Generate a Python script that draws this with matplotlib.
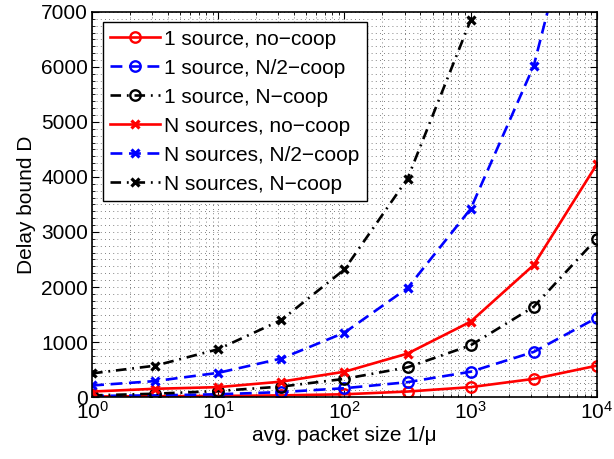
import numpy as np
import matplotlib
matplotlib.use("Agg")
import matplotlib.pyplot as plt
from matplotlib.ticker import LogLocator, MultipleLocator, NullFormatter

plt.rcParams["font.family"] = ["Liberation Sans", "DejaVu Sans"]

# avg. packet size 1/mu (half-decade steps)
pkt_size = [1, 3.162, 10, 31.62, 100, 316.2, 1000, 3162, 10000]

one_nocoop = [10, 15, 20, 30, 50, 100, 180, 330, 570]
one_half = [20, 30, 50, 90, 160, 270, 460, 820, 1440]
one_full = [30, 60, 110, 190, 330, 540, 940, 1640, 2880]
n_nocoop = [100, 150, 180, 280, 460, 790, 1370, 2400, 4230]
n_half = [210, 290, 440, 700, 1170, 1980, 3420, 6020, 10500]
n_full = [430, 570, 870, 1400, 2320, 3970, 6850, 12000, 20900]

labels = [
    "1 source, no\u2212coop",
    "1 source, N/2\u2212coop",
    "1 source, N\u2212coop",
    "N sources, no\u2212coop",
    "N sources, N/2\u2212coop",
    "N sources, N\u2212coop",
]

fig = plt.figure(figsize=(6.14, 4.59), dpi=100)
ax = fig.add_axes([0.150, 0.135, 0.822, 0.839])

lw = 1.9
dash = (4.5, 2.5)
dashdot = (4, 2.2, 0.7, 2.2)
ax.plot(pkt_size, one_nocoop, "r-", marker="o", ms=7.5, mfc="none", mew=1.7, lw=lw, label=labels[0])
ax.plot(pkt_size, one_half, "b--", marker="o", ms=7.5, mfc="none", mew=1.7, lw=lw, label=labels[1], dashes=dash)
ax.plot(pkt_size, one_full, "k-.", marker="o", ms=7.5, mfc="none", mew=1.7, lw=lw, label=labels[2], dashes=dashdot)
ax.plot(pkt_size, n_nocoop, "r-", marker="x", ms=5.5, mew=2.3, lw=lw, label=labels[3])
ax.plot(pkt_size, n_half, "b--", marker="x", ms=5.5, mew=2.3, lw=lw, label=labels[4], dashes=dash)
ax.plot(pkt_size, n_full, "k-.", marker="x", ms=5.5, mew=2.3, lw=lw, label=labels[5], dashes=dashdot)

ax.set_xscale("log")
ax.set_xlim(1, 1e4)
ax.set_ylim(0, 7000)
ax.yaxis.set_major_locator(MultipleLocator(1000))
ax.yaxis.set_minor_locator(MultipleLocator(125))
ax.xaxis.set_minor_locator(LogLocator(base=10, subs=np.arange(2, 10)))
ax.xaxis.set_minor_formatter(NullFormatter())

ax.grid(True, which="both", linestyle=(0, (1, 4)), color="0.35", linewidth=0.6)
ax.tick_params(which="both", direction="in", top=True, right=True, labelsize=15, pad=3)
ax.tick_params(which="major", length=5)
ax.tick_params(which="minor", length=2.5)
for s in ax.spines.values():
    s.set_linewidth(1.2)

ax.set_xlabel("avg. packet size 1/\u03bc", fontsize=15, labelpad=2)
ax.set_ylabel("Delay bound D", fontsize=15, labelpad=4)

leg = ax.legend(loc="upper left", fontsize=15, handlelength=2.4, borderpad=0.35,
                labelspacing=0.48, handletextpad=0.2, fancybox=False,
                borderaxespad=0.5)
leg.get_frame().set_edgecolor("black")
leg.get_frame().set_linewidth(1.0)
leg.get_frame().set_alpha(1)

fig.savefig("out.png", dpi=100)
